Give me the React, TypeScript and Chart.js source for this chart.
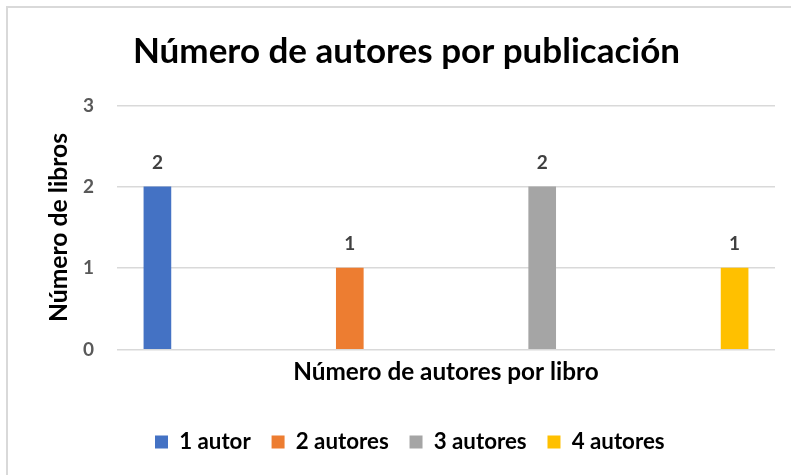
import React, { useEffect, useRef } from 'react';
import { Chart, registerables } from 'chart.js';

Chart.register(...registerables);

const chartTitle = 'Número de autores por publicación';
const xAxisTitle = 'Número de autores por libro';
const yAxisTitle = 'Número de libros';
const seriesLabels = ['1 autor', '2 autores', '3 autores', '4 autores'];
const seriesValues = [2, 1, 2, 1];
const seriesPositions = [0, 1, 2, 3];
const seriesColors = ['#4472C4', '#ED7D31', '#A5A5A5', '#FFC000'];
const yMin = 0;
const yMax = 3;
const yStep = 1;

const FONT = 'Lato, "Open Sans", sans-serif';

function fitSize(text: string, target: number): number {
  const c = document.createElement('canvas').getContext('2d')!;
  c.font = `bold 100px ${FONT}`;
  const w = c.measureText(text).width;
  return Math.round((100 * target / w) * 10) / 10;
}

const valueLabels = {
  id: 'valueLabels',
  afterDatasetsDraw(chart: any) {
    const ctx = chart.ctx;
    const size = chart.options.plugins.valueLabels?.size ?? 19;
    ctx.save();
    ctx.font = `bold ${size}px ${FONT}`;
    ctx.fillStyle = '#404040';
    ctx.textAlign = 'center';
    ctx.textBaseline = 'middle';
    chart.data.datasets.forEach((ds: any, i: number) => {
      const meta = chart.getDatasetMeta(i);
      if (meta.hidden) return;
      meta.data.forEach((el: any, j: number) => {
        const v = ds.data[j];
        ctx.fillText(String(v.y), el.x, el.y - 24);
      });
    });
    ctx.restore();
  },
};

const boxShift = {
  id: 'boxShift',
  afterLayout(chart: any) {
    const lg = chart.legend;
    if (lg && lg.lineWidths) {
      const pad = lg.options.labels.padding;
      const start = (lg.left + lg.right + pad - lg.lineWidths[0]) / 2;
      const d = 155 - start;
      lg.left += d;
      lg.right += d;
    }
    const tb = chart.titleBlock;
    if (tb) {
      tb.left += 11;
      tb.right += 11;
    }
  },
};

export default function App() {
  const ref = useRef<HTMLCanvasElement | null>(null);

  useEffect(() => {
    document.body.style.margin = '0';
    document.body.style.overflow = 'hidden';
    const canvas = ref.current;
    if (!canvas) return;

    const fsT = fitSize(chartTitle, 547);
    const fsX = fitSize(xAxisTitle, 306);
    const fsY = fitSize(yAxisTitle, 189);
    const fsL = fitSize('2 autores', 93);
    const fsTick = 19;

    const legendPad = Math.max(8, 32 - fsL / 2);
    const legendBottom = 442 + 10 + fsL / 2;
    const lb = 475 - legendBottom;
    const legendTop = legendBottom - (legendPad + fsL + 10);
    const xpt = 372 - 349.5 - 0.6 * fsX;
    const xpb = legendTop - 349.5 - xpt - 1.2 * fsX;

    const chart = new Chart(canvas, {
      type: 'bar',
      data: {
        datasets: seriesLabels.map((label, i) => ({
          label,
          data: [{ x: seriesPositions[i], y: seriesValues[i] }],
          backgroundColor: seriesColors[i],
          borderWidth: 0,
          grouped: false,
          barThickness: 27,
        })),
      },
      options: {
        animation: false,
        responsive: false,
        maintainAspectRatio: false,
        layout: { padding: { left: 16, right: 16, top: 0, bottom: lb } },
        plugins: {
          valueLabels: { size: fsTick },
          title: {
            display: true,
            text: chartTitle,
            color: '#000000',
            font: { family: FONT, size: fsT, weight: 'bold' },
            padding: { top: 52 - 0.6 * fsT, bottom: 105.5 - 52 - 0.6 * fsT },
          },
          legend: {
            position: 'bottom',
            labels: {
              boxWidth: 13,
              boxHeight: 13,
              padding: legendPad,
              color: '#000000',
              font: { family: FONT, size: fsL, weight: 'bold' },
            },
          },
          tooltip: { enabled: false },
        } as any,
        scales: {
          x: {
            type: 'linear',
            offset: false,
            min: -0.21,
            max: 3.21,
            grid: { display: false, drawTicks: false },
            border: { display: false },
            ticks: { display: false },
            title: {
              display: true,
              text: xAxisTitle,
              color: '#000000',
              font: { family: FONT, size: fsX, weight: 'bold' },
              padding: { top: xpt, bottom: xpb },
            },
          },
          y: {
            min: yMin,
            max: yMax,
            afterFit: (s: any) => {
              s.width = 101;
            },
            ticks: {
              stepSize: yStep,
              padding: 23,
              color: '#595959',
              font: { family: FONT, size: fsTick, weight: 'bold' },
            },
            grid: { color: '#d9d9d9', lineWidth: 1.5, drawTicks: false },
            border: { display: false },
            title: {
              display: true,
              text: yAxisTitle,
              color: '#000000',
              font: { family: FONT, size: fsY, weight: 'bold' },
              padding: { top: 43 - 0.6 * fsY, bottom: 4 },
            },
          },
        },
      },
      plugins: [valueLabels, boxShift],
    });
    return () => chart.destroy();
  }, []);

  return (
    <div style={{ position: 'relative', width: 791, height: 475, overflow: 'hidden', background: '#fff' }}>
      <div
        style={{
          position: 'absolute',
          left: 6,
          top: 6,
          width: 820,
          height: 500,
          border: '2px solid #d9d9d9',
          boxSizing: 'border-box',
        }}
      />
      <canvas ref={ref} width={791} height={475} style={{ position: 'absolute', left: 0, top: 0, display: 'block' }} />
    </div>
  );
}
